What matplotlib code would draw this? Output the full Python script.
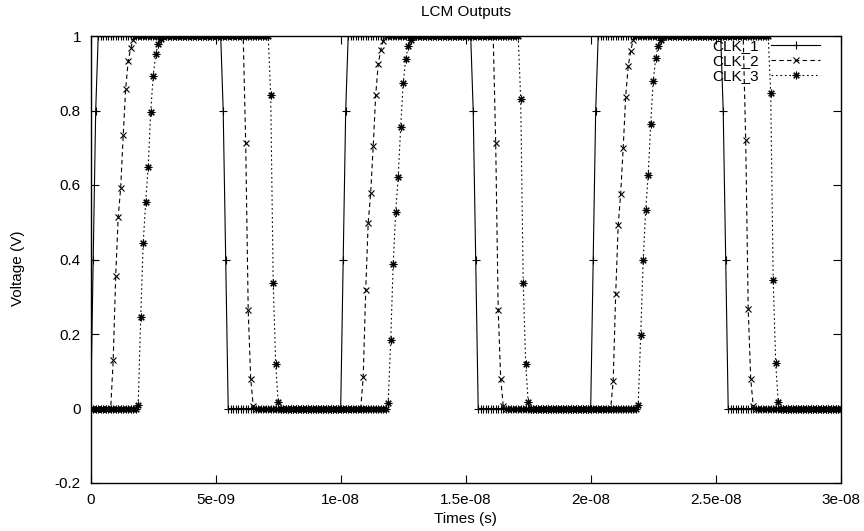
import numpy as np
import matplotlib
matplotlib.use("Agg")
import matplotlib.pyplot as plt

plt.rcParams['font.family'] = ['Liberation Sans', 'DejaVu Sans']

# ---- data (time in ns, sampled every 0.1 ns) ----
time_ns = np.round(np.arange(301) * 0.1, 1)

clk1 = ([0.0, 0.4, 0.8] + [1.0] * 50 + [0.8, 0.4] + [0.0] * 46 +
        [0.4, 0.8] + [1.0] * 50 + [0.8, 0.4] + [0.0] * 46 +
        [0.4, 0.8] + [1.0] * 50 + [0.8, 0.4] + [0.0] * 46)

clk2 = ([0.0] * 9 +
        [0.13, 0.356, 0.514, 0.593, 0.733, 0.859, 0.933, 0.967, 0.99] +
        [1.0] * 44 + [0.712, 0.265, 0.08, 0.008] + [0.0] * 43 +
        [0.084, 0.317, 0.498, 0.579, 0.704, 0.841, 0.924, 0.962, 0.987] +
        [1.0] * 44 + [0.712, 0.265, 0.08, 0.008] + [0.0] * 43 +
        [0.075, 0.308, 0.492, 0.577, 0.70, 0.837, 0.919, 0.96, 0.99] +
        [1.0] * 44 + [0.72, 0.268, 0.08, 0.008] + [0.0] * 35)

clk3 = ([0.0] * 19 +
        [0.01, 0.245, 0.443, 0.555, 0.649, 0.797, 0.893, 0.951, 0.978, 0.993] +
        [1.0] * 43 + [0.841, 0.338, 0.12, 0.017] + [0.0] * 43 +
        [0.015, 0.183, 0.389, 0.528, 0.622, 0.756, 0.873, 0.937, 0.973, 0.99] +
        [1.0] * 43 + [0.83, 0.338, 0.12, 0.017] + [0.0] * 43 +
        [0.01, 0.196, 0.40, 0.532, 0.628, 0.763, 0.879, 0.94, 0.973, 0.99] +
        [1.0] * 43 + [0.846, 0.345, 0.123, 0.018] + [0.0] * 25)

series_names = ["CLK_1", "CLK_2", "CLK_3"]
xticks = [0, 5e-9, 1e-8, 1.5e-8, 2e-8, 2.5e-8, 3e-8]
xtick_labels = ["0", "5e-09", "1e-08", "1.5e-08", "2e-08", "2.5e-08", "3e-08"]
yticks = [-0.2, 0, 0.2, 0.4, 0.6, 0.8, 1]
ytick_labels = ["-0.2", "0", "0.2", "0.4", "0.6", "0.8", "1"]

time_s = time_ns * 1e-9

W, H = 864, 531
fig = plt.figure(figsize=(W / 100, H / 100), dpi=100)
L, R, T, B = 90.7, 840.7, 36, 483
ax = fig.add_axes([L / W, (H - B) / H, (R - L) / W, (B - T) / H])

fs = 11
lw = 0.8
mew = 0.8
ax.plot(time_s, clk1, color='black', lw=lw, ls='-', marker='+', ms=5.5, mew=mew,
        label=series_names[0])
ax.plot(time_s, clk2, color='black', lw=lw, ls=(0, (4, 3)), marker='x', ms=5.0, mew=mew,
        label=series_names[1])
ax.plot(time_s, clk3, color='black', lw=lw, ls=(0, (1.5, 2.5)), marker=(8, 2, 0), ms=5.5, mew=mew,
        label=series_names[2])

ax.set_xlim(0, 3e-8)
ax.set_ylim(-0.2, 1)
ax.set_xticks(xticks)
ax.set_xticklabels(xtick_labels)
ax.set_yticks(yticks)
ax.set_yticklabels(ytick_labels)
ax.tick_params(direction='in', length=6, width=0.8, top=True, right=True,
               labelsize=fs, pad=7, colors='black')
for s in ax.spines.values():
    s.set_linewidth(1.0)
    s.set_color('black')

cx = (L + R) / 2
fig.text(cx / W, 1 - 12 / H, "LCM Outputs", fontsize=fs, ha='center', va='center')
fig.text(cx / W, 1 - 519 / H, "Times (s)", fontsize=fs, ha='center', va='center')
fig.text(18 / W, 1 - 268 / H, "Voltage (V)", fontsize=fs, ha='center', va='center',
         rotation=90)

leg = ax.legend(loc='upper right', bbox_to_anchor=(820 / W, 1 - 39 / H),
                bbox_transform=fig.transFigure, frameon=False, markerfirst=False,
                numpoints=1, handlelength=3.2, handletextpad=0.8, fontsize=fs,
                labelspacing=0.08, borderpad=0, borderaxespad=0)

fig.savefig("out.png", dpi=100)
